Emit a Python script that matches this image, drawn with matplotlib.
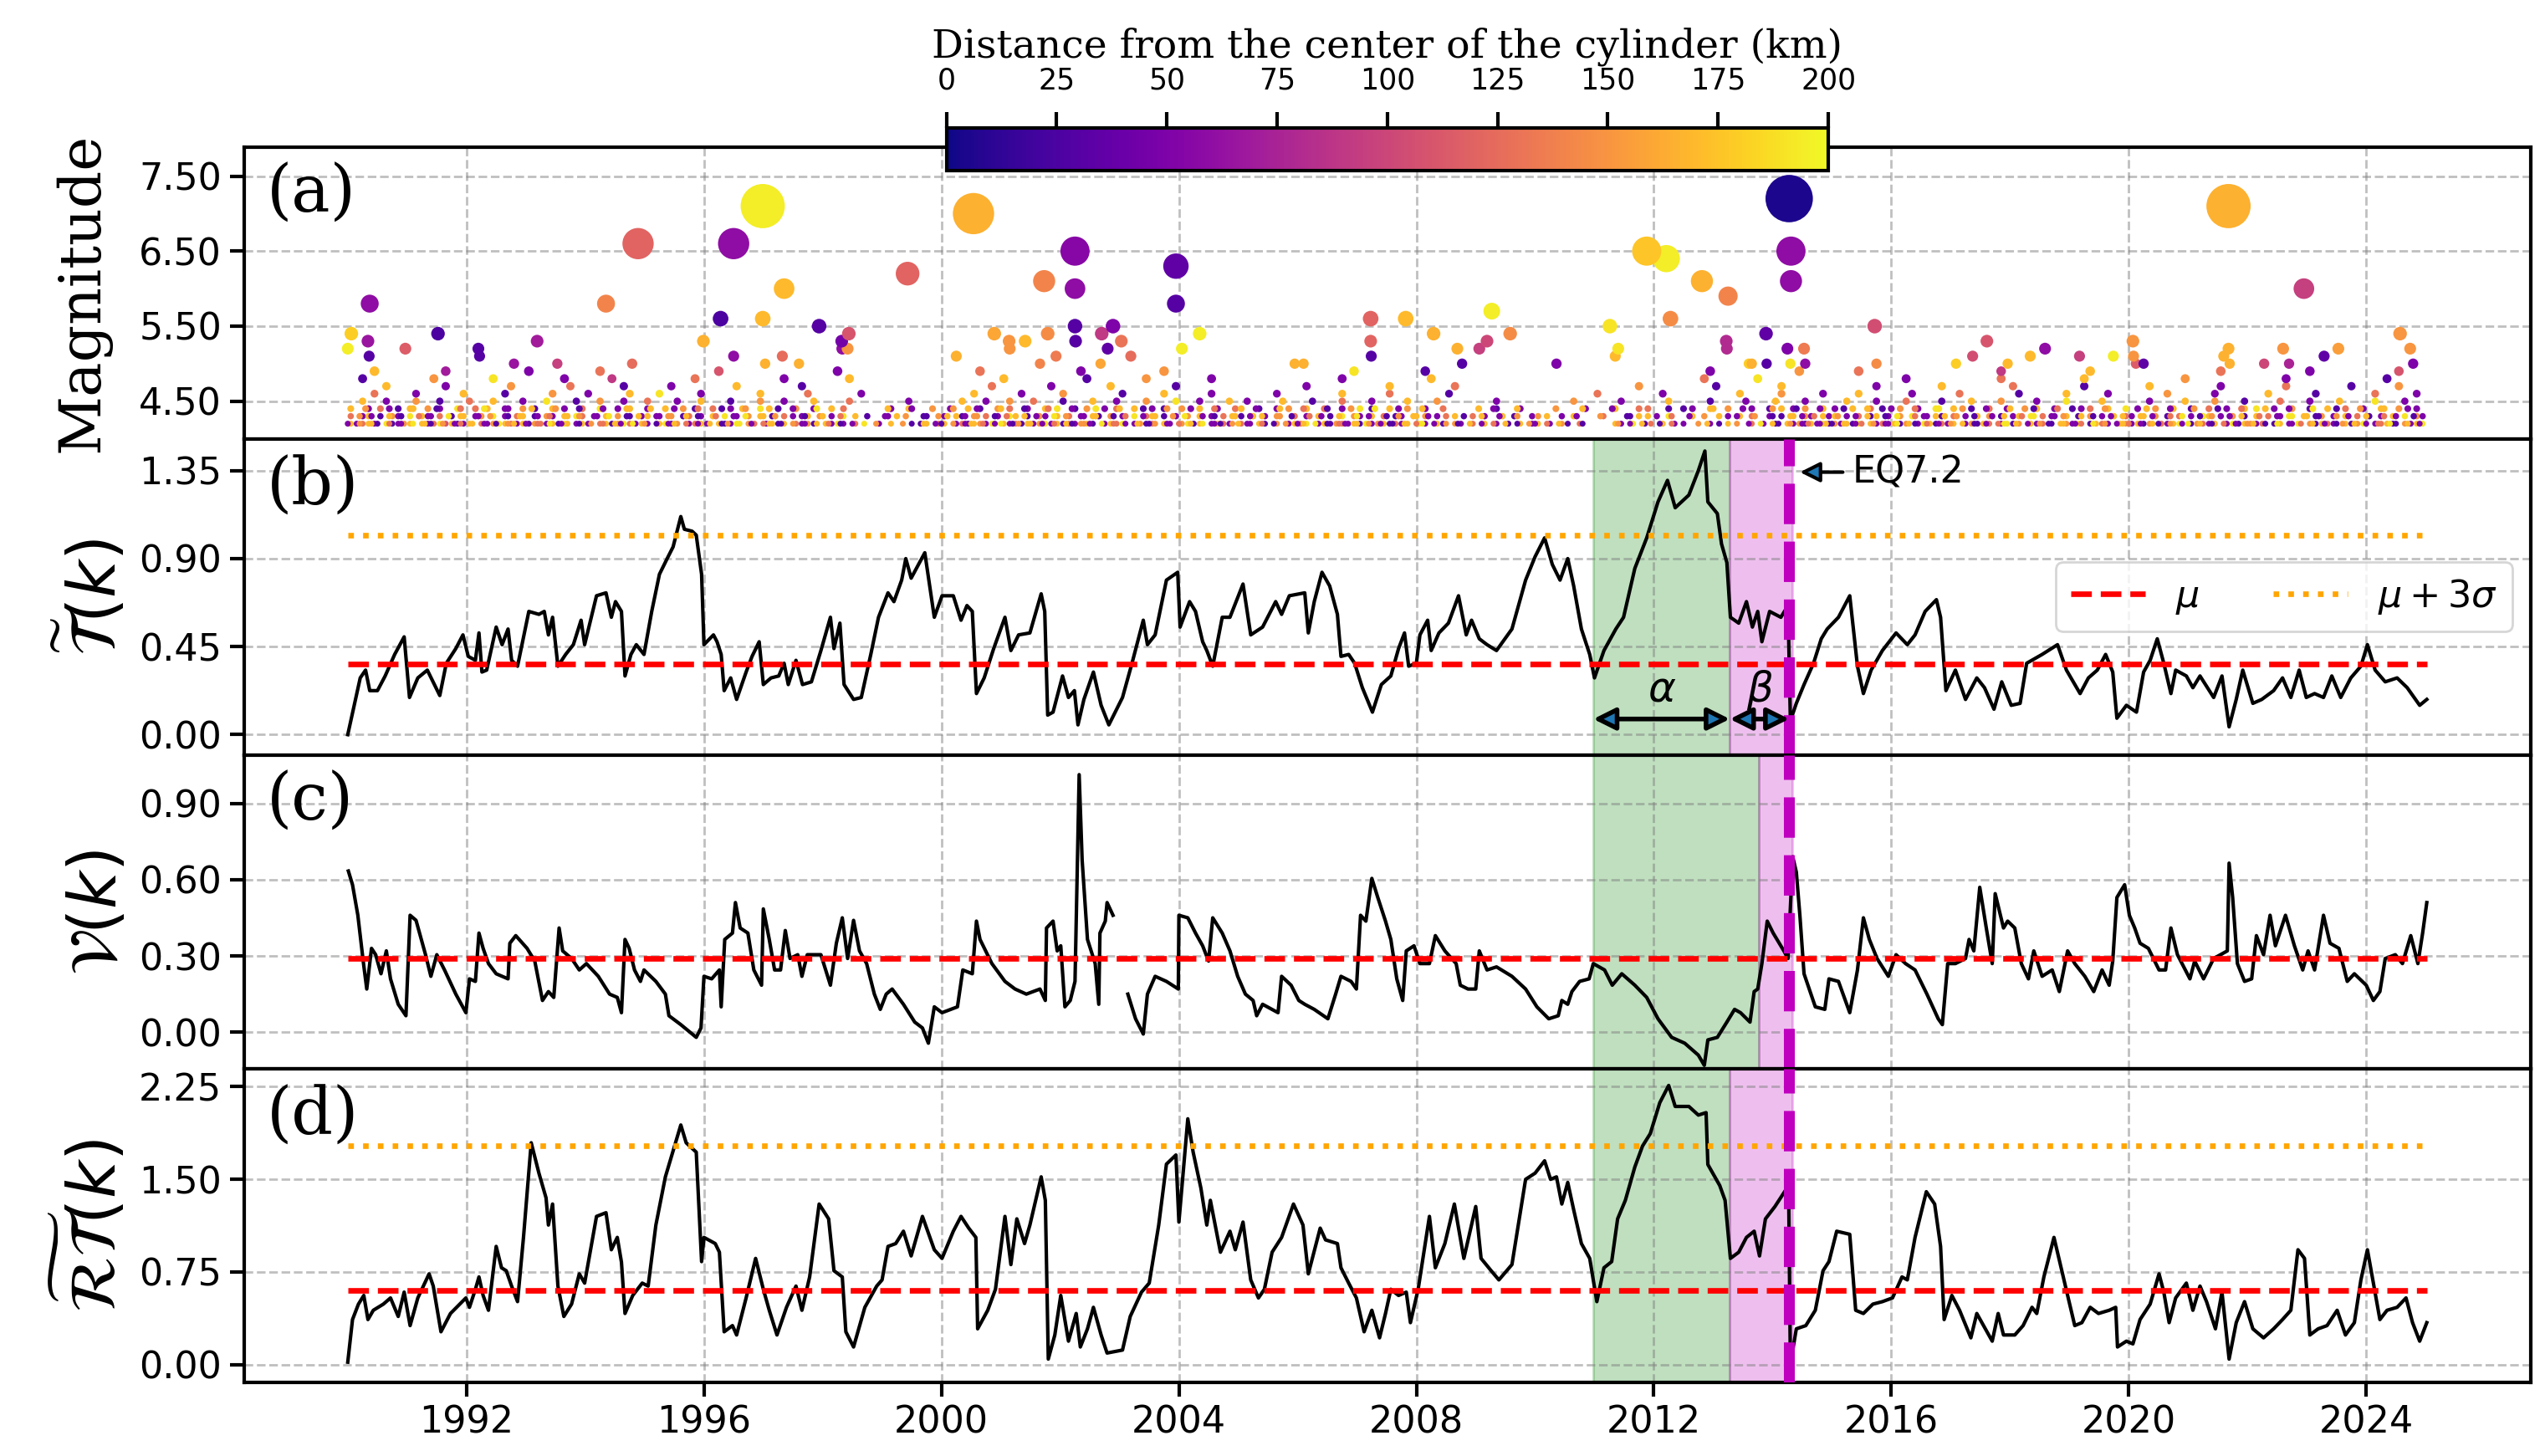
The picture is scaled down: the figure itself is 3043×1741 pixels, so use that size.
import numpy as np
import matplotlib
matplotlib.use('Agg')
import matplotlib.pyplot as plt
from matplotlib.ticker import FormatStrFormatter

# ---------------- panel (a): events M >= 5.0 read one by one
eq_t = [1990.37, 1990.06, 1990.00, 1990.34, 1990.36, 1990.97, 1991.52, 1992.20, 1992.22, 1992.80,
        1993.19, 1993.53, 1994.35, 1994.79, 1994.89, 1995.99, 1996.28, 1996.50, 1996.50, 1996.99,
        1996.99, 1997.03, 1997.32, 1997.35, 1997.60, 1997.94, 1998.32, 1998.33, 1998.44, 1998.42,
        1999.43, 2000.25, 2000.54, 2000.89, 2001.14, 2001.15, 2001.41, 2001.66, 2001.73, 2001.79,
        2001.93, 2002.25, 2002.25, 2002.25, 2002.26, 2002.68, 2002.70, 2002.80, 2002.89, 2003.03,
        2003.19, 2003.95, 2003.95, 2004.05, 2004.35, 2005.95, 2006.10, 2007.23, 2007.23, 2007.24,
        2007.82, 2008.29, 2008.69, 2008.77, 2009.06, 2009.19, 2009.27, 2009.58, 2010.36, 2011.26,
        2011.40, 2011.35, 2011.88, 2012.21, 2012.28, 2012.81, 2013.25, 2013.22, 2013.23, 2013.60,
        2013.65, 2013.89, 2013.90, 2014.25, 2014.28, 2014.31, 2014.31, 2014.30, 2014.53, 2014.55,
        2015.72, 2015.75, 2017.09, 2017.37, 2017.61, 2017.96, 2018.34, 2018.59, 2019.17, 2019.74,
        2020.07, 2020.08, 2020.12, 2020.25, 2021.68, 2021.68, 2021.60, 2021.70, 2022.28, 2022.60,
        2022.70, 2022.95, 2023.29, 2023.53, 2024.57, 2024.74, 2024.79]
eq_m = [5.8, 5.4, 5.2, 5.3, 5.1, 5.2, 5.4, 5.2, 5.1, 5.0,
        5.3, 5.0, 5.8, 5.0, 6.6, 5.3, 5.6, 5.1, 6.6, 5.6,
        7.1, 5.0, 5.1, 6.0, 5.0, 5.5, 5.3, 5.2, 5.4, 5.2,
        6.2, 5.1, 7.0, 5.4, 5.3, 5.2, 5.3, 5.0, 6.1, 5.4,
        5.1, 6.5, 6.0, 5.5, 5.3, 5.0, 5.4, 5.2, 5.5, 5.3,
        5.1, 6.3, 5.8, 5.2, 5.4, 5.0, 5.0, 5.6, 5.3, 5.1,
        5.6, 5.4, 5.2, 5.0, 5.2, 5.3, 5.7, 5.4, 5.0, 5.5,
        5.2, 5.1, 6.5, 6.4, 5.6, 6.1, 5.9, 5.3, 5.2, 5.0,
        5.0, 5.4, 5.0, 5.2, 7.2, 6.5, 6.1, 5.0, 5.2, 5.0,
        5.5, 5.0, 5.0, 5.1, 5.3, 5.0, 5.1, 5.2, 5.1, 5.1,
        5.3, 5.1, 5.0, 5.0, 7.1, 5.2, 5.1, 5.0, 5.0, 5.2,
        5.0, 6.0, 5.1, 5.2, 5.4, 5.2, 5.0]
eq_d = [60, 180, 195, 65, 30, 115, 25, 30, 30, 65,
        70, 95, 140, 125, 120, 165, 25, 60, 60, 170,
        195, 165, 125, 170, 165, 30, 45, 60, 110, 150,
        120, 165, 165, 160, 150, 150, 170, 140, 140, 145,
        135, 55, 60, 30, 30, 160, 90, 35, 50, 130,
        125, 35, 30, 195, 195, 165, 165, 120, 120, 30,
        170, 165, 165, 30, 95, 100, 195, 145, 50, 190,
        190, 170, 175, 195, 145, 165, 140, 80, 80, 180,
        165, 35, 30, 50, 5, 60, 60, 190, 135, 60,
        105, 145, 180, 105, 110, 170, 170, 60, 95, 195,
        150, 150, 115, 35, 165, 165, 165, 165, 100, 150,
        75, 95, 35, 155, 150, 150, 50]

# small events M4.2-4.9: one string per 5-year block (1990, 1995, ... 2020),
# one character per ~0.1 yr, digit k -> distance 20k+10 km, '.' -> no event
block_start = [1990, 1995, 2000, 2005, 2010, 2015, 2020]
row42 = ["82682.91278.826958128.627986281762819.282.68179628",
         "2.8917.2682.8129.76.2818.6271.8292.6...2.8.7..18.6",
         "8.2618729.8261827928162781.2869.2716.82.7918.2862.",
         "62.81.7.2869.2817628192781628.92.81.72.6.8.2.1.8.2",
         "8.2.71.6.....82.9.16.8.2...7.2..8...6.2.1.82718291",
         "72819.8262817.2981628.27186.2917.8261.8729.1862.87",
         "2817.6289.17628.2918726.18.29.71862.8179.2681.7289"]
row42b = ["2.7.81.6.2.9.81.7.26.8.2.1.78.2.6.9.28.1.7.6.82.9.",
          "7.1.28.6.2.8.17.9.2.68.1.7.2.8.6.1.2.9.7.....1.8.2",
          "1.7.28.6.29.17.8.2.6.81.72.9.6.2.8.17.2.6.8.9.21.7",
          "8.2.6.1.7.28.9.1.62.8.7.2.1.8.69.2.7.1.8.2.6.8.1.7",
          "2.6.8...1.....7.2.8..1.6.2...8.1..7.2.9.81.7.26.28",
          "1.8.26.7.2.9.81.6.2.7.8.1.2.69.8.2.7.1.8.26.9.7.28",
          "6.2.81.7.29.8.1.6.2.78.1.9.2.6.8.2.17.8.2.6.91.8.2"]
row43 = ["6.28.1.72.9.82.6.1.8.27.9.2.68.1.72.8.96.2.8.7.1.2",
         "8.2.7.16.2.8.9.2.7.8.1.6..28.7.2.9.8.1..2.8....1.7",
         "2.81.7.6.2.98.1.72.8.6.2.81.7.2.9.68.1.2.7.8.2.6.8",
         "1.8.2.7..6.2.8.1.9.72.8.6.12.8.7.2..8..6.2..8.1..2",
         "7...2.8....6...1.8..2.9...8.7...2.8.6..2.1.8.72.82",
         "8.2.6.18.2.7.9.2.81.6.2.8.7.1.28.9.6.2.8.1.7.2.8.6",
         "2.8.7.1.6.2.98.2.7.1.8.6.2.9.8.17.2.8.6.1.2.8.9.72"]
row43b = ["..7.2..8.1..6.2..9.8..2.7..1.8..2.6..8.7..2.9..1.8",
          "..2.7..8.1..6..2.9..8.7..2.1..8..6.......2..7..1..",
          ".8..2.7..1.6..8.2..9.7..2.8..1.6..2.8..7.9..2.1..8",
          "..2.8..7.1..6.2..8..9.2..1.7..8.2..6..1..8..2..7..",
          "..8....2...7....1..8...6..2....8..2..7..1..8.2.6..",
          ".7..2.8..1.9..6.2..8.7..1..2.8..6.9..2.7..8.1..2.8",
          "..8.2..6.9..1.7..2.8..6..2.9..8.1..7.2..8..6.2..1."]
row44 = ["8..2.6..1.8..7.2..9..6.8..2..7.1..8.2..6..9..2.8..",
         "2..8..7.1..6..2.8..9..1..7..2..8.6.......2..8...7.",
         ".2..8.1..7.6..2..8.9..1.7..2.6..8..2.1..7..8..2..6",
         "8..1..2.7..8..6..2..9.1..8..7..2..6.....8..1...2..",
         "...7....2....8...6....1...2..8..7...2..1.8.2.7..8.",
         "2..8..6.1..7..2..9..8..1..6..2..7.8..2..1..6..8..9",
         ".2..7..8..1..6..2..8.9..2..7..1..8..6..2..8..7..2."]
row44b = ["...7...2...8...1...6...9...2...8...7...1...2...8..",
          ".8...2...6...1...7...8...2...9...........8...2....",
          "..7...2...8...1...6...2...9...8...1...7...2...6...",
          "...2...8...6...1...7...9...2...8...........2...8..",
          "........8....2.....6.....1....8....2....7...1...2.",
          "..1...8...2...6...9...7...2...8...1...6...2...7...",
          "...8...2...7...1...6...8...2...9...1...7...8...2.."]
row45 = ["..8...2....7...1....6...8....2...9....1...7...2...",
         "6....2...8....1....7...2....8.....6.........2.....",
         "...8...2...7...6....1....8...2....7....9...2....8.",
         ".2.....8....1....6....2.....8....7.........2......",
         "......7.......2.......8......1.....2....8....2....",
         "..8....2....6.....1....8....7.....2....9.....8....",
         "...2.....8....7....1.....6....2....8.....9....2..."]
row46 = ["....6......2.......8......1.......7.....2......8..",
         "..9......2.........8.......6........2.............",
         ".....8.......2......7.........1......8.......2....",
         "......2..........8.......6.........1..............",
         "..........6..........2............8......7......2.",
         "....8........2.......6.........1.......8......2...",
         "......7.......2........8.......1.........6......2."]
row47 = ["......8.........2..........7.........6........1...",
         "....2..........8..........1.......................",
         "........6.........2.........8..........1..........",
         "...........2.............8..........6.............",
         ".................7............1..........8........",
         ".......2..........8...........6...........1.......",
         "...8...........2..........6..........1.......7...."]
row48 = ["..1...........7.........9...........2.......4.....",
         "........6..............2..........8...............",
         "..........8.............1.........7..........2....",
         ".................2..............8.................",
         "............................6........9............",
         "............2...............6.............8.......",
         ".........7................2................1......"]
row49 = ["....8...........3.............2...........6.......",
         "............5...................2.................",
         "......6................2.............7............",
         "...................9...........1..................",
         ".............................2..............7.....",
         "....6.......................4..............8......",
         "...............6..............2..............5...."]
# (magnitude, strings, offset of the event inside its slot)
small_rows = [(4.2, row42, 0.5), (4.2, row42b, 0.0), (4.3, row43, 0.5), (4.3, row43b, 0.0),
              (4.4, row44, 0.5), (4.4, row44b, 0.0), (4.5, row45, 0.5), (4.6, row46, 0.5),
              (4.7, row47, 0.5), (4.8, row48, 0.5), (4.9, row49, 0.5)]

# ---------------- panels (b)-(d): curve vertices (year, value)
b_pts = [(1990.00, 0.00), (1990.21, 0.29), (1990.30, 0.33), (1990.37, 0.225), (1990.50, 0.225),
         (1990.63, 0.30), (1990.79, 0.41), (1990.95, 0.50), (1991.04, 0.19), (1991.18, 0.29),
         (1991.34, 0.33), (1991.55, 0.20), (1991.66, 0.365), (1991.82, 0.44), (1991.94, 0.51),
         (1992.03, 0.40), (1992.15, 0.38), (1992.21, 0.52), (1992.26, 0.32), (1992.34, 0.33),
         (1992.50, 0.55), (1992.60, 0.46), (1992.70, 0.54), (1992.76, 0.38), (1992.86, 0.35),
         (1993.05, 0.63), (1993.22, 0.615), (1993.31, 0.63), (1993.38, 0.51), (1993.45, 0.60),
         (1993.54, 0.35), (1993.67, 0.41), (1993.80, 0.46), (1993.93, 0.585), (1993.99, 0.46),
         (1994.19, 0.71), (1994.35, 0.725), (1994.44, 0.60), (1994.51, 0.68), (1994.61, 0.63),
         (1994.67, 0.30), (1994.77, 0.41), (1994.86, 0.46), (1994.99, 0.41), (1995.12, 0.63),
         (1995.25, 0.82), (1995.38, 0.90), (1995.48, 0.96), (1995.61, 1.115), (1995.67, 1.05),
         (1995.80, 1.04), (1995.87, 1.02), (1995.96, 0.82), (1996.00, 0.46), (1996.16, 0.51),
         (1996.22, 0.475), (1996.29, 0.41), (1996.34, 0.225), (1996.45, 0.29), (1996.55, 0.18),
         (1996.71, 0.32), (1996.81, 0.40), (1996.93, 0.475), (1997.00, 0.256), (1997.13, 0.29),
         (1997.26, 0.30), (1997.35, 0.365), (1997.42, 0.256), (1997.55, 0.38), (1997.66, 0.256),
         (1997.81, 0.27), (1997.97, 0.43), (1998.13, 0.60), (1998.19, 0.44), (1998.29, 0.57),
         (1998.36, 0.256), (1998.52, 0.18), (1998.65, 0.19), (1998.81, 0.41), (1998.94, 0.60),
         (1999.10, 0.725), (1999.20, 0.68), (1999.33, 0.79), (1999.40, 0.90), (1999.49, 0.80),
         (1999.72, 0.93), (1999.88, 0.60), (2000.01, 0.71), (2000.20, 0.71), (2000.33, 0.585),
         (2000.43, 0.66), (2000.52, 0.63), (2000.59, 0.21), (2000.72, 0.29), (2000.88, 0.44),
         (2001.07, 0.60), (2001.17, 0.43), (2001.30, 0.51), (2001.49, 0.52), (2001.68, 0.72),
         (2001.74, 0.63), (2001.79, 0.10), (2001.88, 0.115), (2002.04, 0.30), (2002.14, 0.19),
         (2002.24, 0.225), (2002.30, 0.05), (2002.40, 0.18), (2002.56, 0.32), (2002.69, 0.15),
         (2002.82, 0.05), (2003.05, 0.19), (2003.21, 0.365), (2003.40, 0.585), (2003.47, 0.46),
         (2003.60, 0.51), (2003.79, 0.79), (2003.98, 0.83), (2004.02, 0.55), (2004.18, 0.68),
         (2004.28, 0.63), (2004.40, 0.475), (2004.47, 0.43), (2004.57, 0.35), (2004.73, 0.60),
         (2004.86, 0.60), (2005.08, 0.77), (2005.21, 0.51), (2005.41, 0.55), (2005.63, 0.68),
         (2005.73, 0.615), (2005.86, 0.71), (2006.12, 0.725), (2006.18, 0.52), (2006.28, 0.68),
         (2006.41, 0.83), (2006.54, 0.76), (2006.67, 0.615), (2006.73, 0.40), (2006.86, 0.41),
         (2006.96, 0.365), (2007.09, 0.24), (2007.26, 0.115), (2007.41, 0.256), (2007.57, 0.30),
         (2007.70, 0.44), (2007.80, 0.52), (2007.87, 0.35), (2008.00, 0.365), (2008.06, 0.51),
         (2008.19, 0.585), (2008.25, 0.43), (2008.38, 0.52), (2008.54, 0.57), (2008.71, 0.71),
         (2008.84, 0.51), (2008.93, 0.585), (2009.06, 0.49), (2009.19, 0.46), (2009.35, 0.43),
         (2009.61, 0.54), (2009.84, 0.79), (2010.00, 0.91), (2010.16, 1.006), (2010.29, 0.87),
         (2010.42, 0.79), (2010.55, 0.90), (2010.65, 0.76), (2010.78, 0.54), (2010.92, 0.41),
         (2011.00, 0.29), (2011.16, 0.43), (2011.36, 0.54), (2011.49, 0.60), (2011.68, 0.85),
         (2011.88, 1.006), (2012.07, 1.19), (2012.23, 1.30), (2012.36, 1.16), (2012.59, 1.225),
         (2012.75, 1.35), (2012.86, 1.45), (2012.91, 1.19), (2013.07, 1.13), (2013.14, 0.975),
         (2013.23, 0.88), (2013.29, 0.60), (2013.43, 0.57), (2013.56, 0.68), (2013.66, 0.55),
         (2013.75, 0.63), (2013.82, 0.475), (2013.95, 0.63), (2014.14, 0.60), (2014.26, 0.66),
         (2014.30, 0.07), (2014.40, 0.16), (2014.53, 0.256), (2014.69, 0.365), (2014.82, 0.49),
         (2014.92, 0.54), (2015.11, 0.60), (2015.30, 0.71), (2015.43, 0.35), (2015.53, 0.21),
         (2015.66, 0.33), (2015.85, 0.43), (2016.08, 0.52), (2016.27, 0.46), (2016.40, 0.51),
         (2016.57, 0.63), (2016.76, 0.69), (2016.83, 0.60), (2016.92, 0.225), (2017.08, 0.33),
         (2017.25, 0.18), (2017.44, 0.29), (2017.57, 0.24), (2017.73, 0.13), (2017.86, 0.27),
         (2018.02, 0.15), (2018.17, 0.16), (2018.28, 0.365), (2018.54, 0.41), (2018.80, 0.46),
         (2018.95, 0.33), (2019.18, 0.21), (2019.32, 0.29), (2019.47, 0.33), (2019.61, 0.41),
         (2019.73, 0.32), (2019.80, 0.084), (2019.96, 0.15), (2020.13, 0.115), (2020.25, 0.32),
         (2020.36, 0.38), (2020.48, 0.49), (2020.59, 0.365), (2020.71, 0.21), (2020.79, 0.33),
         (2020.97, 0.30), (2021.08, 0.24), (2021.20, 0.30), (2021.43, 0.19), (2021.57, 0.30),
         (2021.69, 0.04), (2021.81, 0.18), (2021.92, 0.33), (2022.09, 0.16), (2022.24, 0.18),
         (2022.44, 0.225), (2022.59, 0.29), (2022.73, 0.19), (2022.87, 0.33), (2022.99, 0.19),
         (2023.13, 0.21), (2023.28, 0.19), (2023.42, 0.30), (2023.57, 0.19), (2023.74, 0.29),
         (2023.91, 0.35), (2024.02, 0.46), (2024.15, 0.33), (2024.32, 0.27), (2024.52, 0.29),
         (2024.69, 0.24), (2024.90, 0.15), (2025.02, 0.18)]

c_pts = [(1990.01, 0.634), (1990.08, 0.58), (1990.17, 0.46), (1990.26, 0.28), (1990.32, 0.17),
         (1990.40, 0.33), (1990.47, 0.305), (1990.56, 0.23), (1990.65, 0.32), (1990.72, 0.21),
         (1990.85, 0.11), (1990.98, 0.065), (1991.05, 0.46), (1991.15, 0.44), (1991.31, 0.305),
         (1991.40, 0.22), (1991.50, 0.305), (1991.63, 0.245), (1991.82, 0.15), (1991.99, 0.077),
         (1992.05, 0.21), (1992.15, 0.20), (1992.21, 0.39), (1992.28, 0.33), (1992.37, 0.27),
         (1992.50, 0.23), (1992.60, 0.22), (1992.70, 0.21), (1992.73, 0.35), (1992.83, 0.38),
         (1993.02, 0.33), (1993.15, 0.28), (1993.28, 0.125), (1993.38, 0.16), (1993.47, 0.137),
         (1993.56, 0.41), (1993.62, 0.32), (1993.77, 0.29), (1993.90, 0.245), (1994.02, 0.27),
         (1994.22, 0.22), (1994.41, 0.15), (1994.54, 0.137), (1994.61, 0.077), (1994.67, 0.365),
         (1994.74, 0.33), (1994.83, 0.245), (1994.93, 0.20), (1994.99, 0.245), (1995.19, 0.20),
         (1995.35, 0.15), (1995.41, 0.065), (1995.61, 0.03), (1995.87, -0.02), (1995.95, 0.017),
         (1996.00, 0.22), (1996.13, 0.21), (1996.26, 0.245), (1996.29, 0.10), (1996.35, 0.365),
         (1996.48, 0.39), (1996.53, 0.51), (1996.61, 0.41), (1996.74, 0.39), (1996.84, 0.245),
         (1996.97, 0.185), (1997.00, 0.485), (1997.10, 0.365), (1997.19, 0.245), (1997.29, 0.245),
         (1997.37, 0.40), (1997.45, 0.29), (1997.58, 0.305), (1997.65, 0.22), (1997.74, 0.305),
         (1997.97, 0.305), (1998.13, 0.185), (1998.23, 0.35), (1998.33, 0.45), (1998.42, 0.29),
         (1998.52, 0.44), (1998.62, 0.32), (1998.74, 0.27), (1998.87, 0.15), (1998.97, 0.09),
         (1999.07, 0.15), (1999.17, 0.17), (1999.36, 0.11), (1999.55, 0.04), (1999.68, 0.017),
         (1999.78, -0.043), (1999.88, 0.10), (2000.01, 0.077), (2000.27, 0.10), (2000.36, 0.245),
         (2000.52, 0.23), (2000.59, 0.437), (2000.65, 0.365), (2000.85, 0.27), (2001.07, 0.20),
         (2001.24, 0.17), (2001.43, 0.15), (2001.66, 0.17), (2001.75, 0.125), (2001.77, 0.41),
         (2001.88, 0.437), (2001.95, 0.32), (2002.01, 0.34), (2002.08, 0.10), (2002.17, 0.125),
         (2002.25, 0.20), (2002.32, 1.013), (2002.37, 0.677), (2002.46, 0.365), (2002.59, 0.27),
         (2002.65, 0.11), (2002.67, 0.39), (2002.76, 0.437), (2002.79, 0.51), (2002.89, 0.46),
         (2003.00, np.nan), (2003.14, 0.15), (2003.27, 0.053), (2003.40, -0.007), (2003.47, 0.15),
         (2003.60, 0.22), (2003.79, 0.20), (2003.99, 0.17), (2004.00, 0.46), (2004.15, 0.45),
         (2004.28, 0.39), (2004.40, 0.34), (2004.50, 0.28), (2004.57, 0.45), (2004.73, 0.39),
         (2004.86, 0.32), (2004.99, 0.22), (2005.12, 0.15), (2005.25, 0.125), (2005.31, 0.065),
         (2005.41, 0.11), (2005.67, 0.077), (2005.73, 0.22), (2005.89, 0.185), (2006.02, 0.125),
         (2006.12, 0.11), (2006.28, 0.09), (2006.51, 0.053), (2006.64, 0.15), (2006.73, 0.22),
         (2006.90, 0.20), (2006.99, 0.17), (2007.06, 0.46), (2007.15, 0.437), (2007.25, 0.605),
         (2007.35, 0.53), (2007.48, 0.437), (2007.57, 0.365), (2007.67, 0.21), (2007.77, 0.125),
         (2007.83, 0.32), (2007.96, 0.34), (2008.06, 0.27), (2008.22, 0.27), (2008.32, 0.38),
         (2008.48, 0.32), (2008.67, 0.27), (2008.74, 0.185), (2008.87, 0.17), (2009.00, 0.17),
         (2009.06, 0.32), (2009.19, 0.245), (2009.35, 0.257), (2009.61, 0.22), (2009.84, 0.17),
         (2010.03, 0.10), (2010.23, 0.053), (2010.39, 0.065), (2010.45, 0.125), (2010.55, 0.11),
         (2010.62, 0.16), (2010.75, 0.20), (2010.91, 0.21), (2010.98, 0.27), (2011.17, 0.245),
         (2011.30, 0.185), (2011.46, 0.23), (2011.68, 0.185), (2011.88, 0.137), (2012.07, 0.053),
         (2012.30, -0.02), (2012.52, -0.043), (2012.75, -0.09), (2012.85, -0.13), (2012.91, -0.03),
         (2013.07, -0.02), (2013.23, 0.04), (2013.36, 0.09), (2013.46, 0.077), (2013.62, 0.04),
         (2013.69, 0.16), (2013.75, 0.17), (2013.82, 0.27), (2013.91, 0.437), (2014.01, 0.39),
         (2014.19, 0.32), (2014.26, 0.29), (2014.34, 0.69), (2014.40, 0.63), (2014.46, 0.46),
         (2014.53, 0.23), (2014.72, 0.10), (2014.88, 0.09), (2014.95, 0.21), (2015.11, 0.20),
         (2015.30, 0.077), (2015.43, 0.245), (2015.53, 0.45), (2015.63, 0.365), (2015.76, 0.29),
         (2015.95, 0.22), (2016.08, 0.305), (2016.24, 0.27), (2016.40, 0.245), (2016.60, 0.15),
         (2016.79, 0.053), (2016.86, 0.03), (2016.95, 0.27), (2017.08, 0.27), (2017.25, 0.29),
         (2017.31, 0.365), (2017.39, 0.32), (2017.49, 0.57), (2017.60, 0.41), (2017.70, 0.27),
         (2017.75, 0.545), (2017.89, 0.41), (2017.96, 0.437), (2018.08, 0.41), (2018.19, 0.27),
         (2018.31, 0.21), (2018.40, 0.32), (2018.54, 0.22), (2018.71, 0.245), (2018.83, 0.16),
         (2018.97, 0.32), (2019.09, 0.27), (2019.26, 0.22), (2019.41, 0.16), (2019.55, 0.245),
         (2019.67, 0.185), (2019.73, 0.28), (2019.80, 0.53), (2019.93, 0.58), (2020.01, 0.46),
         (2020.10, 0.41), (2020.19, 0.35), (2020.33, 0.33), (2020.51, 0.245), (2020.62, 0.245),
         (2020.71, 0.41), (2020.82, 0.305), (2021.03, 0.21), (2021.11, 0.28), (2021.26, 0.21),
         (2021.43, 0.29), (2021.66, 0.32), (2021.69, 0.665), (2021.75, 0.53), (2021.83, 0.27),
         (2021.95, 0.20), (2022.07, 0.21), (2022.15, 0.38), (2022.27, 0.305), (2022.38, 0.46),
         (2022.47, 0.34), (2022.64, 0.46), (2022.79, 0.34), (2022.93, 0.245), (2023.02, 0.32),
         (2023.13, 0.245), (2023.28, 0.46), (2023.39, 0.35), (2023.54, 0.33), (2023.68, 0.20),
         (2023.80, 0.23), (2024.00, 0.185), (2024.12, 0.125), (2024.23, 0.16), (2024.32, 0.29),
         (2024.49, 0.305), (2024.61, 0.27), (2024.75, 0.38), (2024.87, 0.27), (2024.95, 0.39),
         (2025.02, 0.51)]

d_pts = [(1990.00, 0.02), (1990.08, 0.365), (1990.18, 0.49), (1990.27, 0.56), (1990.34, 0.365),
         (1990.43, 0.44), (1990.60, 0.49), (1990.72, 0.54), (1990.85, 0.39), (1990.95, 0.587),
         (1991.05, 0.316), (1991.18, 0.54), (1991.37, 0.735), (1991.44, 0.636), (1991.57, 0.266),
         (1991.73, 0.414), (1991.99, 0.54), (1992.05, 0.464), (1992.15, 0.61), (1992.21, 0.71),
         (1992.28, 0.56), (1992.37, 0.44), (1992.50, 0.957), (1992.59, 0.784), (1992.67, 0.76),
         (1992.76, 0.636), (1992.86, 0.51), (1992.96, 1.03), (1993.09, 1.796), (1993.22, 1.55),
         (1993.34, 1.35), (1993.38, 1.13), (1993.45, 1.30), (1993.54, 0.636), (1993.64, 0.39),
         (1993.77, 0.49), (1993.90, 0.735), (1993.99, 0.66), (1994.19, 1.20), (1994.35, 1.23),
         (1994.44, 0.93), (1994.54, 1.03), (1994.61, 0.83), (1994.67, 0.414), (1994.80, 0.56),
         (1994.96, 0.66), (1995.06, 0.636), (1995.19, 1.13), (1995.35, 1.52), (1995.61, 1.94),
         (1995.70, 1.796), (1995.87, 1.72), (1995.96, 0.834), (1996.00, 1.03), (1996.19, 0.98),
         (1996.26, 0.91), (1996.34, 0.266), (1996.48, 0.316), (1996.55, 0.24), (1996.71, 0.54),
         (1996.87, 0.86), (1997.00, 0.61), (1997.10, 0.44), (1997.23, 0.24), (1997.39, 0.464),
         (1997.55, 0.636), (1997.65, 0.44), (1997.78, 0.71), (1997.94, 1.30), (1998.10, 1.18),
         (1998.19, 0.76), (1998.33, 0.71), (1998.39, 0.266), (1998.52, 0.143), (1998.71, 0.464),
         (1998.91, 0.636), (1999.00, 0.686), (1999.10, 0.957), (1999.23, 0.98), (1999.36, 1.08),
         (1999.49, 0.88), (1999.68, 1.20), (1999.88, 0.93), (2000.01, 0.86), (2000.20, 1.08),
         (2000.33, 1.20), (2000.46, 1.105), (2000.58, 1.03), (2000.61, 0.29), (2000.78, 0.44),
         (2000.91, 0.61), (2001.07, 1.20), (2001.17, 0.81), (2001.27, 1.18), (2001.40, 0.98),
         (2001.49, 1.13), (2001.68, 1.52), (2001.75, 1.33), (2001.80, 0.045), (2001.91, 0.24),
         (2002.01, 0.56), (2002.14, 0.19), (2002.27, 0.414), (2002.34, 0.143), (2002.46, 0.29),
         (2002.56, 0.464), (2002.69, 0.24), (2002.79, 0.094), (2003.05, 0.118), (2003.18, 0.39),
         (2003.37, 0.587), (2003.50, 0.66), (2003.66, 1.13), (2003.79, 1.623), (2003.95, 1.697),
         (2004.00, 1.154), (2004.15, 1.99), (2004.24, 1.72), (2004.37, 1.43), (2004.47, 1.13),
         (2004.53, 1.33), (2004.70, 0.91), (2004.86, 1.08), (2004.95, 0.93), (2005.08, 1.154),
         (2005.21, 0.686), (2005.34, 0.54), (2005.44, 0.61), (2005.57, 0.91), (2005.73, 1.03),
         (2005.93, 1.30), (2006.09, 1.13), (2006.18, 0.735), (2006.38, 1.105), (2006.47, 1.01),
         (2006.67, 0.98), (2006.73, 0.784), (2006.86, 0.66), (2006.99, 0.54), (2007.12, 0.266),
         (2007.25, 0.44), (2007.38, 0.217), (2007.48, 0.414), (2007.57, 0.61), (2007.70, 0.56),
         (2007.83, 0.587), (2007.90, 0.34), (2008.03, 0.61), (2008.22, 1.20), (2008.32, 0.784),
         (2008.48, 0.98), (2008.64, 1.30), (2008.80, 0.86), (2009.00, 1.28), (2009.09, 0.86),
         (2009.26, 0.76), (2009.39, 0.686), (2009.61, 0.81), (2009.84, 1.50), (2010.00, 1.55),
         (2010.16, 1.65), (2010.26, 1.50), (2010.36, 1.52), (2010.45, 1.30), (2010.55, 1.475),
         (2010.65, 1.253), (2010.78, 0.98), (2010.92, 0.86), (2011.04, 0.51), (2011.16, 0.784),
         (2011.29, 0.834), (2011.39, 1.18), (2011.52, 1.33), (2011.68, 1.60), (2011.81, 1.77),
         (2011.94, 1.87), (2012.10, 2.12), (2012.25, 2.26), (2012.36, 2.09), (2012.59, 2.09),
         (2012.75, 2.02), (2012.88, 2.04), (2012.91, 1.62), (2013.11, 1.45), (2013.20, 1.33),
         (2013.29, 0.86), (2013.43, 0.91), (2013.56, 1.03), (2013.69, 1.08), (2013.78, 0.88),
         (2013.88, 1.18), (2014.04, 1.28), (2014.17, 1.376), (2014.27, 1.45), (2014.30, 0.00),
         (2014.40, 0.29), (2014.56, 0.316), (2014.72, 0.44), (2014.85, 0.76), (2014.95, 0.834),
         (2015.08, 1.08), (2015.30, 1.055), (2015.40, 0.44), (2015.53, 0.414), (2015.69, 0.49),
         (2015.85, 0.51), (2016.02, 0.54), (2016.18, 0.71), (2016.27, 0.686), (2016.40, 1.03),
         (2016.59, 1.40), (2016.73, 1.30), (2016.83, 0.957), (2016.89, 0.365), (2017.02, 0.56),
         (2017.15, 0.44), (2017.34, 0.217), (2017.44, 0.414), (2017.70, 0.19), (2017.80, 0.414),
         (2017.89, 0.24), (2018.08, 0.24), (2018.22, 0.316), (2018.37, 0.464), (2018.45, 0.414),
         (2018.57, 0.71), (2018.74, 1.03), (2018.86, 0.784), (2018.97, 0.56), (2019.09, 0.316),
         (2019.21, 0.34), (2019.35, 0.464), (2019.49, 0.414), (2019.67, 0.44), (2019.78, 0.464),
         (2019.81, 0.143), (2019.96, 0.19), (2020.07, 0.168), (2020.19, 0.365), (2020.36, 0.49),
         (2020.51, 0.735), (2020.59, 0.587), (2020.68, 0.34), (2020.79, 0.54), (2020.97, 0.66),
         (2021.08, 0.44), (2021.20, 0.636), (2021.31, 0.51), (2021.46, 0.29), (2021.57, 0.587),
         (2021.69, 0.045), (2021.81, 0.34), (2021.95, 0.51), (2022.09, 0.29), (2022.27, 0.217),
         (2022.44, 0.29), (2022.59, 0.365), (2022.73, 0.44), (2022.85, 0.93), (2022.96, 0.86),
         (2023.05, 0.24), (2023.19, 0.29), (2023.34, 0.316), (2023.51, 0.44), (2023.65, 0.24),
         (2023.80, 0.34), (2023.91, 0.686), (2024.02, 0.93), (2024.12, 0.66), (2024.23, 0.365),
         (2024.35, 0.44), (2024.52, 0.464), (2024.67, 0.54), (2024.78, 0.34), (2024.90, 0.19),
         (2025.02, 0.34)]

mu_b, thr_b = 0.36, 1.02
mu_c = 0.29
mu_d, thr_d = 0.60, 1.77

eq_time = 2014.28          # EQ7.2
alpha_start = 2010.98
beta_start = 2013.28
beta_start_c = 2013.77
span_end = 2014.33


def decode_row(mag, blocks, offset):
    t, m, d = [], [], []
    for b0, s in zip(block_start, blocks):
        step = 5.0 / len(s)
        for i, ch in enumerate(s):
            if ch != '.':
                t.append(b0 + (i + offset) * step)
                m.append(mag)
                d.append(20 * int(ch) + 10)
    return t, m, d


all_t, all_m, all_d = list(eq_t), list(eq_m), list(eq_d)
for mag, blocks, off in small_rows:
    t, m, d = decode_row(mag, blocks, off)
    all_t += t
    all_m += m
    all_d += d
all_t = np.array(all_t)
all_m = np.array(all_m)
all_d = np.array(all_d)
order = np.argsort(all_m, kind='stable')
all_t, all_m, all_d = all_t[order], all_m[order], all_d[order]
sizes = 6.5 * 4.0 ** (all_m - 4.2)

tb, vb = np.array(b_pts).T
tc, vc = np.array(c_pts).T
td, vd = np.array(d_pts).T

# ---------------- figure
fig = plt.figure(figsize=(15.215, 8.705), dpi=200)
left, width = 0.0958, 0.8986
ax_a = fig.add_axes([left, 0.6987, width, 0.2002])
ax_b = fig.add_axes([left, 0.4816, width, 0.2171], sharex=ax_a)
ax_c = fig.add_axes([left, 0.2657, width, 0.2159], sharex=ax_a)
ax_d = fig.add_axes([left, 0.0507, width, 0.2150], sharex=ax_a)
cax = fig.add_axes([0.3719, 0.8827, 0.3465, 0.0295])

sc = ax_a.scatter(all_t, all_m, s=sizes, c=all_d, cmap='plasma', vmin=0, vmax=200,
                  linewidths=0, zorder=3)
ax_a.set_ylim(4.0, 7.885)
ax_a.set_yticks([4.5, 5.5, 6.5, 7.5])
ax_a.set_ylabel('Magnitude', family='DejaVu Serif', fontsize=25, labelpad=12)

series = [(ax_b, tb, vb), (ax_c, tc, vc), (ax_d, td, vd)]
for ax, t, v in series:
    ax.plot(t, v, color='k', lw=1.5, zorder=2)

t0, t1 = tb[0], tb[-1]
l_mu, = ax_b.plot([t0, t1], [mu_b, mu_b], color='red', ls='--', lw=2.4, zorder=4, label=r'$\mu$')
l_thr, = ax_b.plot([t0, t1], [thr_b, thr_b], color='orange', ls=':', lw=2.4, zorder=4,
                   label=r'$\mu+3\sigma$')
ax_c.plot([t0, t1], [mu_c, mu_c], color='red', ls='--', lw=2.4, zorder=4)
ax_d.plot([t0, t1], [mu_d, mu_d], color='red', ls='--', lw=2.4, zorder=4)
ax_d.plot([t0, t1], [thr_d, thr_d], color='orange', ls=':', lw=2.4, zorder=4)

# precursor windows
ax_b.axvspan(alpha_start, beta_start, color='green', alpha=0.25, zorder=1)
ax_b.axvspan(beta_start, span_end, color='m', alpha=0.25, zorder=1)
ax_c.axvspan(alpha_start, beta_start_c, color='green', alpha=0.25, zorder=1)
ax_c.axvspan(beta_start_c, span_end, color='m', alpha=0.25, zorder=1)
ax_d.axvspan(alpha_start, beta_start, color='green', alpha=0.25, zorder=1)
ax_d.axvspan(beta_start, span_end, color='m', alpha=0.25, zorder=1)
for ax in (ax_b, ax_c, ax_d):
    ax.axvline(eq_time, color='m', ls='--', lw=4.7, zorder=5)

ax_b.set_ylim(-0.103, 1.513)
ax_b.set_yticks([0, 0.45, 0.90, 1.35])
ax_c.set_ylim(-0.145, 1.091)
ax_c.set_yticks([0, 0.30, 0.60, 0.90])
ax_d.set_ylim(-0.142, 2.392)
ax_d.set_yticks([0, 0.75, 1.50, 2.25])

ax_b.set_ylabel(r'$\widetilde{\mathcal{T}}(k)$', fontsize=28)
ax_c.set_ylabel(r'$\mathcal{V}(k)$', fontsize=28)
ax_d.set_ylabel(r'$\widetilde{\mathcal{RT}}(k)$', fontsize=28)

# annotations in (b)
head = dict(fc='tab:blue', ec='k', lw=2, mutation_scale=20, shrinkA=0, shrinkB=0)
ax_b.annotate('', xy=(alpha_start, 0.08), xytext=(beta_start, 0.08),
              arrowprops=dict(arrowstyle='<|-|>', **head), zorder=6)
ax_b.annotate('', xy=(beta_start, 0.08), xytext=(eq_time, 0.08),
              arrowprops=dict(arrowstyle='<|-|>', **head), zorder=6)
ax_b.text((alpha_start + beta_start) / 2, 0.23, r'$\alpha$', fontsize=18, ha='center', va='center')
ax_b.text((beta_start + eq_time) / 2, 0.23, r'$\beta$', fontsize=18, ha='center', va='center')
ax_b.annotate('EQ7.2', xy=(2014.46, 1.342), xytext=(2015.34, 1.342), fontsize=16, va='center',
              arrowprops=dict(arrowstyle='-|>', fc='tab:blue', ec='k', lw=1.5, mutation_scale=18,
                              shrinkA=2, shrinkB=0))
ax_b.legend(handles=[l_mu, l_thr], loc='center right', ncol=2, fontsize=16)

for ax, lab in zip((ax_a, ax_b, ax_c, ax_d), ('(a)', '(b)', '(c)', '(d)')):
    ax.text(0.01, 0.95, lab, transform=ax.transAxes, family='DejaVu Serif', fontsize=28,
            ha='left', va='top')
    ax.grid(True, ls='--', color='gray', alpha=0.5, lw=1.0)
    ax.yaxis.set_major_formatter(FormatStrFormatter('%.2f'))
    ax.tick_params(axis='y', labelsize=16, length=6, width=1.5)
    for sp in ax.spines.values():
        sp.set_linewidth(1.5)
for ax in (ax_a, ax_b, ax_c):
    ax.tick_params(axis='x', bottom=False, labelbottom=False)
ax_d.set_xticks(list(range(1992, 2025, 4)))
ax_d.xaxis.set_major_formatter(FormatStrFormatter('%d'))
ax_d.tick_params(axis='x', labelsize=16, length=6, width=1.5)

cb = fig.colorbar(sc, cax=cax, orientation='horizontal')
cb.set_ticks(list(range(0, 201, 25)))
cax.xaxis.set_ticks_position('top')
cax.xaxis.set_label_position('top')
cax.tick_params(labelsize=12.5, length=7, width=1.5, pad=7)
cb.set_label('Distance from the center of the cylinder (km)', family='DejaVu Serif',
             fontsize=17, labelpad=4)
cb.outline.set_linewidth(1.5)

fig.savefig('out.png', dpi=200)
